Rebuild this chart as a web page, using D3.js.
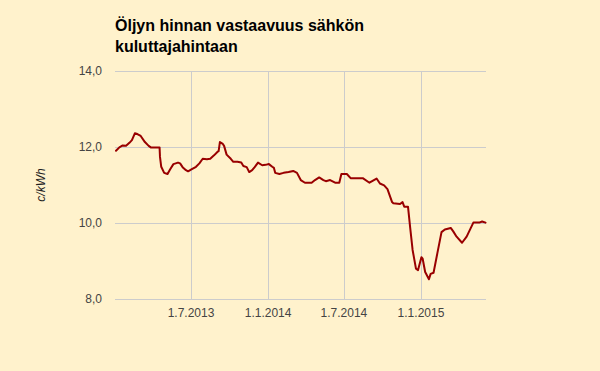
<!DOCTYPE html>
<html>
<head>
<meta charset="utf-8">
<script src="https://cdn.jsdelivr.net/npm/d3@7"></script>
<style>
  html, body { margin: 0; padding: 0; background: #fff2cc; }
  svg { display: block; }
</style>
</head>
<body>
<svg id="chart" width="600" height="371"></svg>
<script>
const titleLines = ["Öljyn hinnan vastaavuus sähkön", "kuluttajahintaan"];
const yAxisTitle = "c/kWh";
const yTicks = [8, 10, 12, 14];
const xTickDates = ["2013-07-01", "2014-01-01", "2014-07-01", "2015-01-01"];
const xTickLabels = ["1.7.2013", "1.1.2014", "1.7.2014", "1.1.2015"];

const dates = [
  "2013-01-03","2013-01-11","2013-01-19","2013-01-27","2013-02-04","2013-02-10","2013-02-17","2013-02-23",
  "2013-03-03","2013-03-13","2013-03-22","2013-03-27","2013-04-17","2013-04-18","2013-04-21","2013-04-28",
  "2013-05-06","2013-05-12","2013-05-20","2013-05-31","2013-06-05","2013-06-11","2013-06-19","2013-06-24",
  "2013-07-02","2013-07-13","2013-07-21","2013-07-29","2013-08-08","2013-08-16","2013-08-25","2013-09-02",
  "2013-09-05","2013-09-08","2013-09-15","2013-09-18","2013-09-24","2013-10-04","2013-10-10","2013-10-20",
  "2013-10-29","2013-11-03","2013-11-11","2013-11-17","2013-11-24","2013-11-30","2013-12-08","2013-12-18",
  "2013-12-26","2014-01-03","2014-01-11","2014-01-15","2014-01-18","2014-01-28","2014-02-07","2014-02-19",
  "2014-03-02","2014-03-11","2014-03-20","2014-03-30","2014-04-15","2014-04-23","2014-05-03","2014-05-13",
  "2014-05-19","2014-05-29","2014-06-10","2014-06-20","2014-06-25","2014-07-08","2014-07-17","2014-08-15",
  "2014-08-31","2014-09-17","2014-09-25","2014-10-05","2014-10-13","2014-10-24","2014-10-27","2014-11-12",
  "2014-11-18","2014-11-22","2014-12-01","2014-12-06","2014-12-12","2014-12-20","2014-12-25","2015-01-02",
  "2015-01-05","2015-01-11","2015-01-20","2015-01-24","2015-01-31","2015-02-09","2015-02-19","2015-02-27",
  "2015-03-13","2015-03-19","2015-03-27","2015-04-09","2015-04-20","2015-05-06","2015-05-20","2015-05-27",
  "2015-06-04"
];
const values = [
  11.90,11.99,12.04,12.03,12.11,12.18,12.36,12.34,
  12.29,12.13,12.03,11.99,11.99,11.74,11.48,11.32,
  11.29,11.41,11.55,11.59,11.57,11.47,11.39,11.36,
  11.41,11.48,11.57,11.69,11.68,11.69,11.78,11.87,
  11.89,12.13,12.08,12.03,11.80,11.69,11.61,11.61,
  11.59,11.50,11.47,11.34,11.39,11.47,11.59,11.52,
  11.53,11.55,11.48,11.45,11.32,11.29,11.32,11.34,
  11.37,11.32,11.13,11.06,11.06,11.13,11.20,11.13,
  11.10,11.13,11.06,11.06,11.29,11.29,11.18,11.18,
  11.06,11.17,11.04,10.99,10.89,10.55,10.52,10.50,
  10.55,10.43,10.43,9.90,9.29,8.80,8.76,9.10,
  9.06,8.71,8.52,8.66,8.69,9.20,9.76,9.83,
  9.87,9.78,9.64,9.48,9.64,10.01,10.01,10.04,
  10.01
];

const parse = d3.timeParse("%Y-%m-%d");
const data = dates.map((d, i) => ({ date: parse(d), value: values[i] }));

const svg = d3.select("#chart");

const x = d3.scaleTime()
  .domain(d3.extent(data, d => d.date))
  .range([116, 485.5]);
const y = d3.scaleLinear()
  .domain([8, 14])
  .range([299, 71]);

const font = "'Liberation Sans', Arial, sans-serif";

// horizontal gridlines
svg.append("g")
  .selectAll("line")
  .data(yTicks)
  .join("line")
  .attr("x1", 115).attr("x2", 486)
  .attr("y1", d => Math.round(y(d)) + 0.5).attr("y2", d => Math.round(y(d)) + 0.5)
  .attr("stroke", "#cccccc").attr("stroke-width", 1);

// vertical gridlines
const xTicks = xTickDates.map(parse);
svg.append("g")
  .selectAll("line")
  .data(xTicks)
  .join("line")
  .attr("x1", d => Math.round(x(d)) + 0.5).attr("x2", d => Math.round(x(d)) + 0.5)
  .attr("y1", 71).attr("y2", 299)
  .attr("stroke", "#cccccc").attr("stroke-width", 1);

// y tick labels
svg.append("g")
  .selectAll("text")
  .data(yTicks)
  .join("text")
  .attr("x", 102)
  .attr("y", d => y(d))
  .attr("dy", "0.36em")
  .attr("text-anchor", "end")
  .attr("font-family", font).attr("font-size", 12)
  .attr("fill", "#444444")
  .text(d => d3.format(".1f")(d).replace(".", ","));

// x tick labels
svg.append("g")
  .selectAll("text")
  .data(xTicks)
  .join("text")
  .attr("x", d => x(d))
  .attr("y", 317)
  .attr("text-anchor", "middle")
  .attr("font-family", font).attr("font-size", 12)
  .attr("fill", "#444444")
  .text((d, i) => xTickLabels[i]);

// line
const line = d3.line()
  .x(d => x(d.date))
  .y(d => y(d.value));
svg.append("path")
  .datum(data)
  .attr("d", line)
  .attr("fill", "none")
  .attr("stroke", "#990000")
  .attr("stroke-width", 2)
  .attr("stroke-linejoin", "round")
  .attr("stroke-linecap", "round");

// title
const title = svg.append("text")
  .attr("x", 115)
  .attr("y", 30.5)
  .attr("font-family", font).attr("font-size", 16)
  .attr("font-weight", "bold")
  .attr("fill", "#000000");
titleLines.forEach((t, i) => {
  title.append("tspan").attr("x", 115).attr("dy", i === 0 ? 0 : 21).text(t);
});

// y axis title
svg.append("text")
  .attr("transform", "translate(45,185) rotate(-90)")
  .attr("text-anchor", "middle")
  .attr("font-family", font).attr("font-size", 12)
  .attr("font-style", "italic")
  .attr("fill", "#222222")
  .text(yAxisTitle);
</script>
</body>
</html>
